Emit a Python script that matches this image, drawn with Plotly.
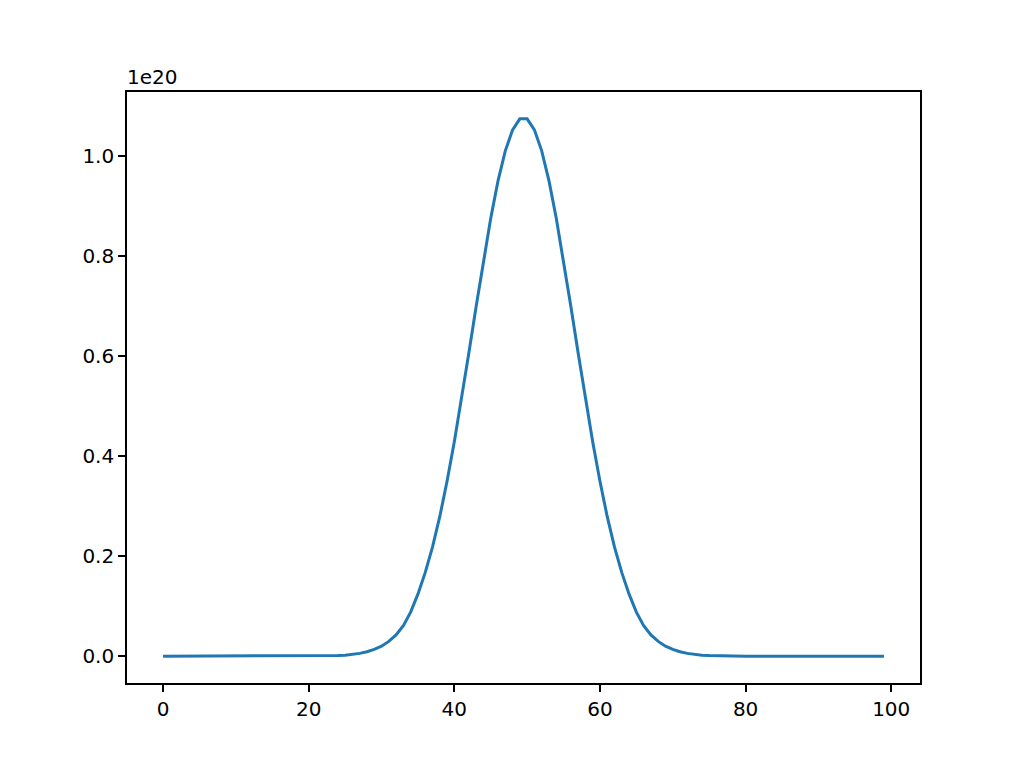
import plotly.graph_objects as go

# values, in units of 1e20
x_vals = list(range(100))
left_half = [
    0.0, 0.0, 0.0, 0.0, 0.0, 0.0, 0.0, 0.0, 0.0, 0.0,
    0.0, 0.0, 0.0, 0.0, 0.0, 0.0, 0.0, 0.0, 0.0, 0.0,
    0.0001, 0.0002, 0.0003, 0.0006, 0.0011, 0.0020, 0.0033, 0.0055, 0.0087, 0.0135,
    0.0200, 0.0295, 0.0425, 0.0610, 0.0880, 0.1240, 0.1670, 0.2180, 0.2790, 0.3500,
    0.4290, 0.5150, 0.6070, 0.7000, 0.7910, 0.8760, 0.9510, 1.0110, 1.0530, 1.0750,
]
right_half = left_half[::-1]
y_vals = left_half + right_half

TICK_FONT = dict(family="DejaVu Sans", size=20, color="black")

fig = go.Figure()
fig.add_trace(
    go.Scatter(
        x=x_vals,
        y=y_vals,
        mode="lines",
        line=dict(color="#1f77b4", width=3),
        showlegend=False,
    )
)

axis_common = dict(
    showgrid=False,
    zeroline=False,
    showline=True,
    linecolor="black",
    linewidth=1.6,
    mirror=True,
    ticks="outside",
    ticklen=7,
    tickwidth=1.6,
    tickcolor="black",
    tickfont=TICK_FONT,
)

fig.update_layout(
    width=1024,
    height=768,
    paper_bgcolor="white",
    plot_bgcolor="white",
    margin=dict(l=119, r=112, t=84, b=93),
    xaxis=dict(
        range=[-4.95, 103.95],
        tickvals=[0, 20, 40, 60, 80, 100],
        **axis_common,
    ),
    yaxis=dict(
        range=[-0.05375, 1.12875],
        tickvals=[0.0, 0.2, 0.4, 0.6, 0.8, 1.0],
        tickformat=".1f",
        **axis_common,
    ),
)

# offset text as matplotlib draws it
fig.add_annotation(
    text="1e20",
    xref="paper", yref="paper",
    x=0, y=1,
    xanchor="left", yanchor="bottom",
    xshift=-2, yshift=1,
    showarrow=False,
    font=TICK_FONT,
)

fig.write_html("out.html")
